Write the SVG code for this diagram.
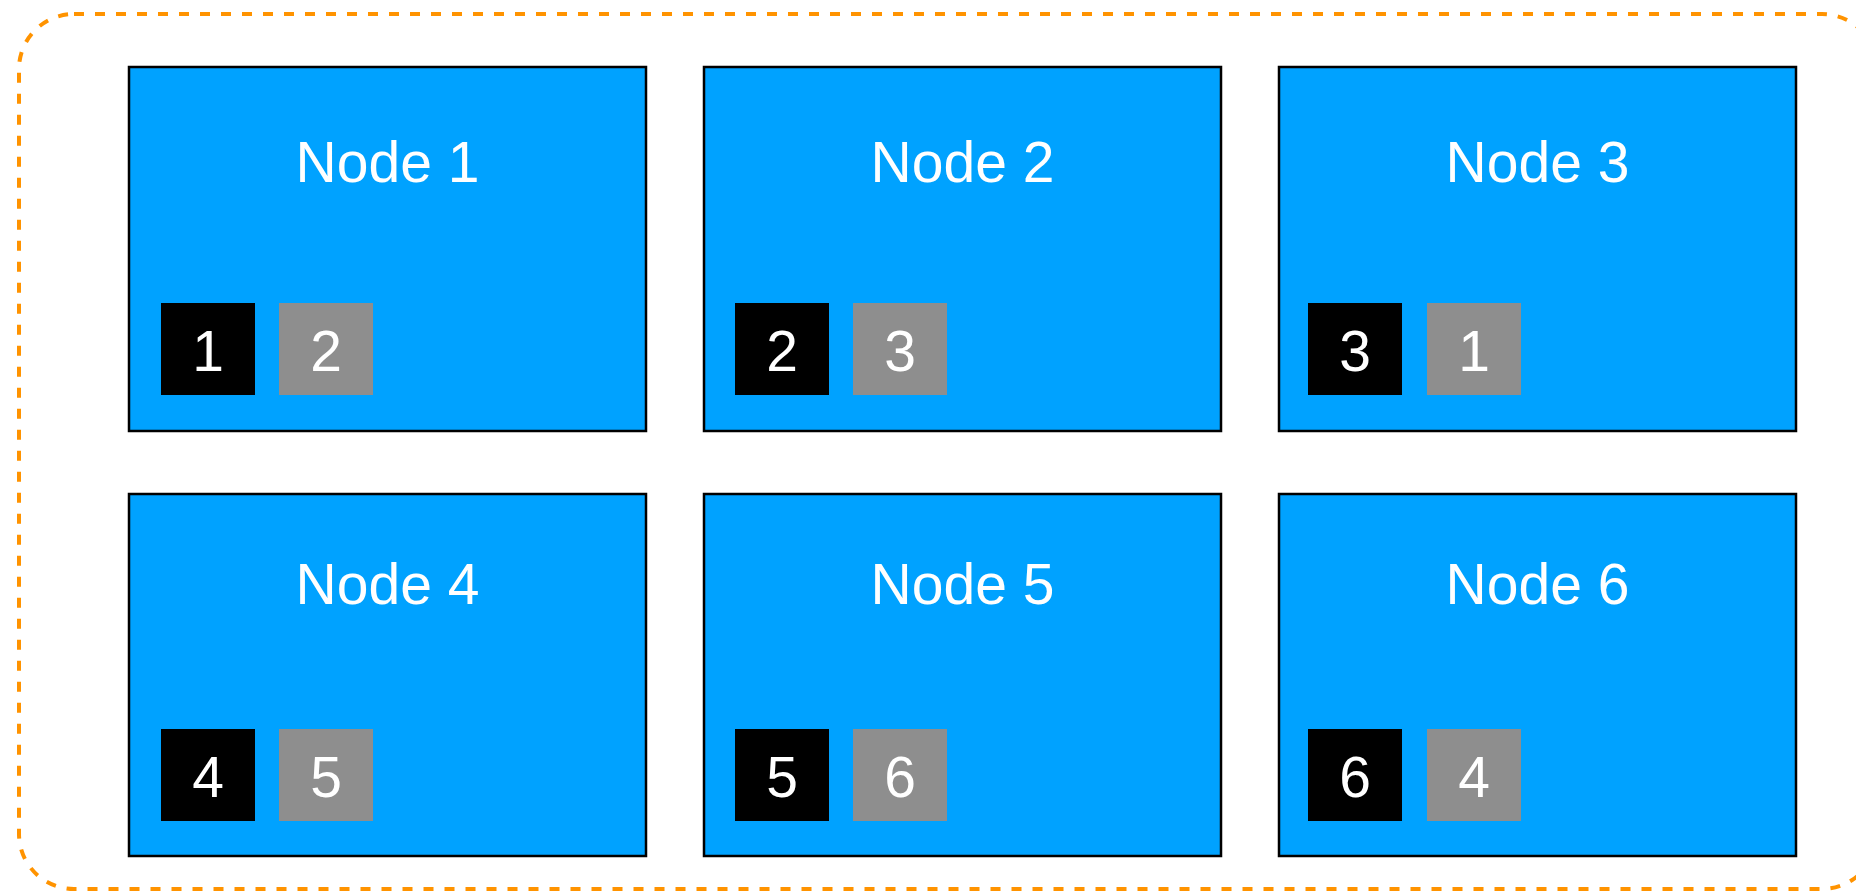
<svg xmlns="http://www.w3.org/2000/svg" width="1856" height="891" viewBox="0 0 1856 891">
  <style>
    .node { fill: #00A2FF; stroke: #000000; stroke-width: 2.5; }
    .pri { fill: #000000; }
    .rep { fill: #8E8E8E; }
    .title { font-family: "Liberation Sans", Arial, sans-serif; font-size: 57px; fill: #FFFFFF; text-anchor: middle; }
    .num { font-family: "Liberation Sans", Arial, sans-serif; font-size: 57px; fill: #FFFFFF; text-anchor: middle; }
    .cluster { fill: none; stroke: #FF9300; stroke-width: 4; stroke-dasharray: 10 11; }
  </style>
  <rect width="1856" height="891" fill="#FFFFFF"/>
  <rect id="cluster" class="cluster" x="19" y="14" width="1858" height="875" rx="55" ry="55"/>

  <g id="node1">
    <rect class="node" x="129" y="67" width="517" height="364"/>
    <text class="title" x="387.5" y="182">Node 1</text>
    <rect class="pri" x="161" y="303" width="94" height="92"/>
    <text class="num" x="208" y="371">1</text>
    <rect class="rep" x="279" y="303" width="94" height="92"/>
    <text class="num" x="326" y="371">2</text>
  </g>
  <g id="node2">
    <rect class="node" x="704" y="67" width="517" height="364"/>
    <text class="title" x="962.5" y="182">Node 2</text>
    <rect class="pri" x="735" y="303" width="94" height="92"/>
    <text class="num" x="782" y="371">2</text>
    <rect class="rep" x="853" y="303" width="94" height="92"/>
    <text class="num" x="900" y="371">3</text>
  </g>
  <g id="node3">
    <rect class="node" x="1279" y="67" width="517" height="364"/>
    <text class="title" x="1537.5" y="182">Node 3</text>
    <rect class="pri" x="1308" y="303" width="94" height="92"/>
    <text class="num" x="1355" y="371">3</text>
    <rect class="rep" x="1427" y="303" width="94" height="92"/>
    <text class="num" x="1474" y="371">1</text>
  </g>
  <g id="node4">
    <rect class="node" x="129" y="494" width="517" height="362"/>
    <text class="title" x="387.5" y="604">Node 4</text>
    <rect class="pri" x="161" y="729" width="94" height="92"/>
    <text class="num" x="208" y="797">4</text>
    <rect class="rep" x="279" y="729" width="94" height="92"/>
    <text class="num" x="326" y="797">5</text>
  </g>
  <g id="node5">
    <rect class="node" x="704" y="494" width="517" height="362"/>
    <text class="title" x="962.5" y="604">Node 5</text>
    <rect class="pri" x="735" y="729" width="94" height="92"/>
    <text class="num" x="782" y="797">5</text>
    <rect class="rep" x="853" y="729" width="94" height="92"/>
    <text class="num" x="900" y="797">6</text>
  </g>
  <g id="node6">
    <rect class="node" x="1279" y="494" width="517" height="362"/>
    <text class="title" x="1537.5" y="604">Node 6</text>
    <rect class="pri" x="1308" y="729" width="94" height="92"/>
    <text class="num" x="1355" y="797">6</text>
    <rect class="rep" x="1427" y="729" width="94" height="92"/>
    <text class="num" x="1474" y="797">4</text>
  </g>
  <g id="connectors"/>
</svg>
